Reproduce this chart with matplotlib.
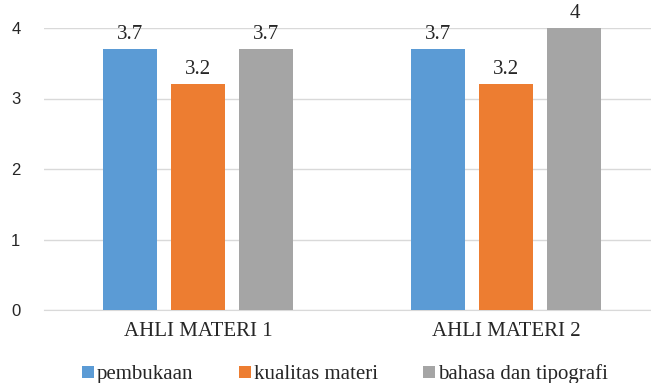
import matplotlib.pyplot as plt
import numpy as np

plt.rcParams['font.family'] = ['Liberation Serif', 'DejaVu Serif']

categories = ['AHLI MATERI 1', 'AHLI MATERI 2']
series_names = ['pembukaan', 'kualitas materi', 'bahasa dan tipografi']
pembukaan = [3.7, 3.7]
kualitas = [3.2, 3.2]
bahasa = [3.7, 4]
colors = ['#5B9BD5', '#ED7D31', '#A5A5A5']

fig = plt.figure(figsize=(6.51, 3.83), dpi=100)
ax = fig.add_axes([44 / 651, 1 - 310 / 383, 1 - 44 / 651, (310 - 28) / 383])

x = np.arange(len(categories))
width = 0.175
step = 0.222

for i, (vals, name) in enumerate(zip([pembukaan, kualitas, bahasa], series_names)):
    pos = x + (i - 1) * step
    bars = ax.bar(pos, vals, width, color=colors[i], label=name, zorder=3)
    for b, v in zip(bars, vals):
        ax.text(b.get_x() + b.get_width() / 2, v + 0.07, f'{v:g}', ha='center', va='bottom',
                fontsize=15, color='#262626', clip_on=False, zorder=4)

ax.set_xlim(-0.5, (651 - 44) / 308 - 0.5)
ax.set_ylim(0, 4)
ax.set_yticks([0, 1, 2, 3, 4])
ax.grid(axis='y', color='#d9d9d9', linewidth=1, zorder=0)
for s in ['top', 'right', 'left']:
    ax.spines[s].set_visible(False)
ax.spines['bottom'].set_color('#d9d9d9')
ax.tick_params(axis='both', length=0)
ax.tick_params(axis='y', labelsize=12, labelcolor='#262626', pad=17)
ax.set_yticklabels(['0', '1', '2', '3', '4'], family=['Liberation Sans', 'DejaVu Sans'])
ax.set_xticks(x)
ax.set_xticklabels(categories, fontsize=15, color='#262626')
ax.tick_params(axis='x', pad=9)

leg = fig.legend(loc='lower center', bbox_to_anchor=(0.53, -0.052), ncol=3, frameon=False,
                 prop={'family': 'Liberation Serif', 'size': 15}, handlelength=0.55, handleheight=0.55,
                 handletextpad=0.15, columnspacing=2.2)
for t in leg.get_texts():
    t.set_color('#262626')

fig.savefig('out.png', dpi=100)
